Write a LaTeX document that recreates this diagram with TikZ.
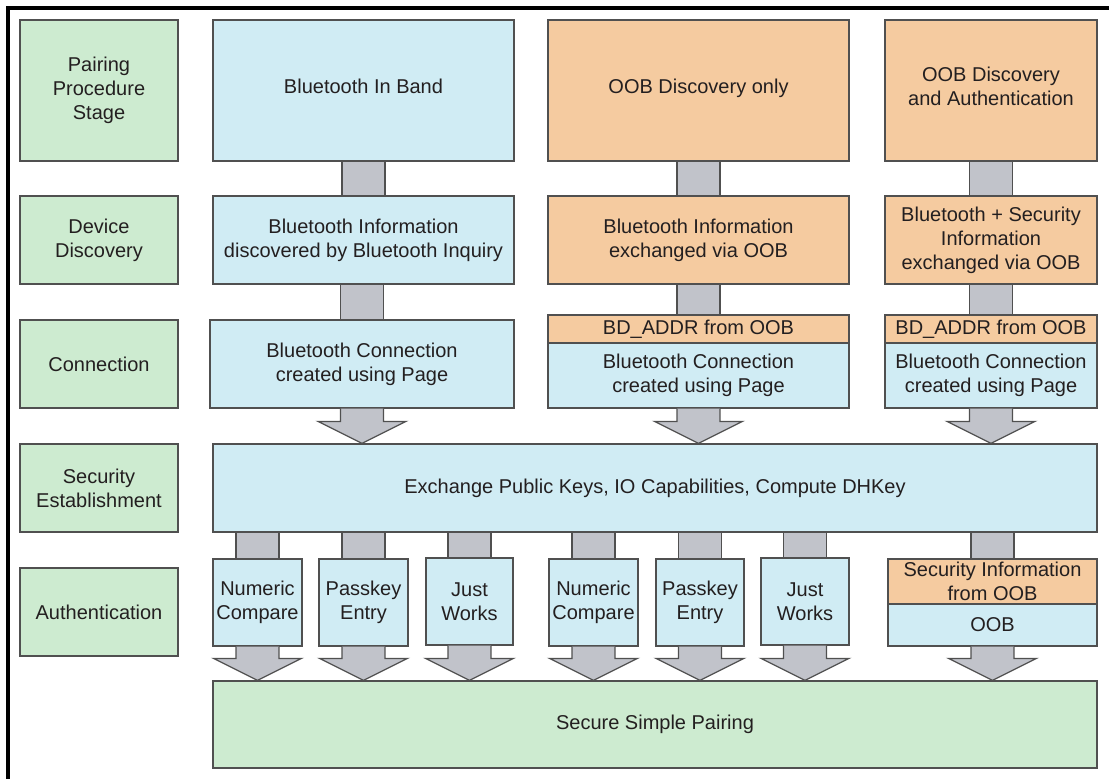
\documentclass[tikz,border=0pt]{standalone}
\usepackage{fontspec}
\setmainfont{Liberation Sans}
\usetikzlibrary{calc}
\definecolor{grn}{HTML}{CDEBD0}
\definecolor{blu}{HTML}{D0ECF4}
\definecolor{org}{HTML}{F5CBA0}
\definecolor{arr}{HTML}{C1C3CA}
\definecolor{edge}{HTML}{505050}
\definecolor{txt}{HTML}{231F20}
\newcommand\bx[7]{\node[#2, minimum width={(#5-#3)*0.75pt}, minimum height={(#6-#4)*0.75pt}] (#1) at ({(#3+#5)/2},{(#4+#6)/2}) {#7};}
\newcommand\shaft[2]{\draw[conn] ([xshift=-16.1pt]#2.north |- #1.south) rectangle ([xshift=16.1pt]#2.north);}
\newcommand\barrow[2]{\draw[conn] ([xshift=-16.1pt]#1.south) -- ([xshift=-16.1pt,yshift=16.5pt]#1.south |- #2.north) -- ([xshift=-33pt,yshift=16.5pt]#1.south |- #2.north) -- (#1.south |- #2.north) -- ([xshift=33pt,yshift=16.5pt]#1.south |- #2.north) -- ([xshift=16.1pt,yshift=16.5pt]#1.south |- #2.north) -- ([xshift=16.1pt]#1.south);}
\begin{document}
\begin{tikzpicture}[x=0.75pt,y=-0.75pt,
  box/.style={draw=edge, line width=0.9pt, inner sep=0pt, align=center, text=txt, font=\fontsize{15}{18}\selectfont},
  gbox/.style={box, fill=grn},
  bbox/.style={box, fill=blu},
  obox/.style={box, fill=org},
  raised/.style={text depth=6pt},
  conn/.style={draw=edge, fill=arr, line width=0.9pt, line join=miter}]
\useasboundingbox (0,0) rectangle (1109,778);
\clip (0,0) rectangle (1109,778);
\draw[line width=2.3pt, black] (8,800) -- (8,8) -- (1130,8);
% left column
\bx{s1}{gbox}{20}{20}{178}{161}{Pairing\\Procedure\\Stage}
\bx{s2}{gbox}{20}{196}{178}{284}{Device\\Discovery}
\bx{s3}{gbox}{20}{320}{178}{408}{Connection}
\bx{s4}{gbox}{20}{444}{178}{532}{Security\\Establishment}
\bx{s5}{gbox}{20}{568}{178}{656}{Authentication}
% column 1
\bx{a1}{bbox,raised}{213}{20}{514}{161}{Bluetooth In Band}
\bx{a2}{bbox}{213}{196}{514}{284}{Bluetooth Information\\discovered by Bluetooth Inquiry}
\bx{a3}{bbox}{210}{320}{514}{408}{Bluetooth Connection\\created using Page}
% column 2
\bx{b1}{obox,raised}{548}{20}{849}{161}{OOB Discovery only}
\bx{b2}{obox}{548}{196}{849}{284}{Bluetooth Information\\exchanged via OOB}
\bx{b3}{obox}{548}{315}{849}{343}{BD\_ADDR from OOB}
\bx{b4}{bbox}{548}{343}{849}{408}{Bluetooth Connection\\created using Page}
% column 3
\bx{c1}{obox,raised}{885}{20}{1097}{161}{OOB Discovery\\and Authentication}
\bx{c2}{obox}{885}{196}{1097}{284}{Bluetooth + Security\\Information\\exchanged via OOB}
\bx{c3}{obox}{885}{315}{1097}{343}{BD\_ADDR from OOB}
\bx{c4}{bbox}{885}{343}{1097}{408}{Bluetooth Connection\\created using Page}
% security
\bx{sec}{bbox}{213}{444}{1097}{532}{Exchange Public Keys, IO Capabilities, Compute DHKey}
% authentication
\bx{n1}{bbox}{213}{559}{302}{646}{Numeric\\Compare}
\bx{p1}{bbox}{319}{559}{408}{646}{Passkey\\Entry}
\bx{j1}{bbox}{426}{558}{513}{645}{Just\\Works}
\bx{n2}{bbox}{549}{559}{638}{646}{Numeric\\Compare}
\bx{p2}{bbox}{656}{559}{744}{646}{Passkey\\Entry}
\bx{j2}{bbox}{761}{558}{849}{645}{Just\\Works}
\bx{o1}{obox}{888}{559}{1097}{604}{Security Information\\from OOB}
\bx{o2}{bbox}{888}{604}{1097}{646}{OOB}
% result
\bx{ssp}{gbox}{213}{681}{1097}{768}{Secure Simple Pairing}
% connectors
\shaft{a1}{a2}
\shaft{a2}{a3}
\shaft{b1}{b2}
\shaft{b2}{b3}
\shaft{c1}{c2}
\shaft{c2}{c3}
\barrow{a3}{sec}
\barrow{b4}{sec}
\barrow{c4}{sec}
\shaft{sec}{n1}
\shaft{sec}{p1}
\shaft{sec}{j1}
\shaft{sec}{n2}
\shaft{sec}{p2}
\shaft{sec}{j2}
\shaft{sec}{o1}
\barrow{n1}{ssp}
\barrow{p1}{ssp}
\barrow{j1}{ssp}
\barrow{n2}{ssp}
\barrow{p2}{ssp}
\barrow{j2}{ssp}
\barrow{o2}{ssp}
\end{tikzpicture}
\end{document}
